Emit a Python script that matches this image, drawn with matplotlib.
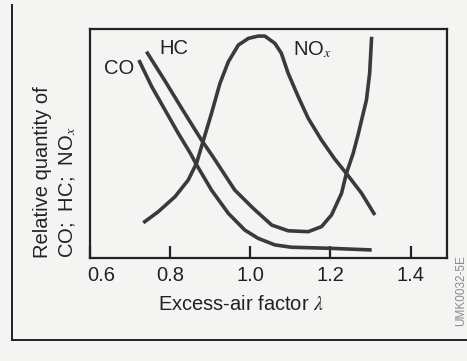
import numpy as np
import matplotlib
matplotlib.use("Agg")
import matplotlib.pyplot as plt
from matplotlib.transforms import ScaledTranslation

plt.rcParams['font.family'] = ['Liberation Sans', 'DejaVu Sans']
plt.rcParams['mathtext.fontset'] = 'stix'

# values (relative quantity, 0..1)
co_x = [0.723, 0.755, 0.788, 0.821, 0.851, 0.867, 0.904, 0.946, 0.987, 1.020, 1.062, 1.103, 1.203, 1.303]
co_y = [0.864, 0.748, 0.646, 0.544, 0.457, 0.405, 0.295, 0.193, 0.120, 0.084, 0.055, 0.045, 0.040, 0.033]

hc_x = [0.742, 0.788, 0.830, 0.879, 0.908, 0.962, 1.008, 1.054, 1.095, 1.145, 1.178, 1.203, 1.228,
        1.240, 1.257, 1.269, 1.290, 1.298, 1.303]
hc_y = [0.901, 0.773, 0.652, 0.514, 0.440, 0.295, 0.215, 0.142, 0.117, 0.113, 0.135, 0.186, 0.281,
        0.368, 0.456, 0.536, 0.689, 0.806, 0.966]

nox_x = [0.734, 0.771, 0.813, 0.846, 0.867, 0.879, 0.904, 0.925, 0.946, 0.971, 0.996, 1.020, 1.037,
         1.062, 1.078, 1.095, 1.120, 1.145, 1.178, 1.211, 1.240, 1.278, 1.311]
nox_y = [0.152, 0.200, 0.266, 0.339, 0.414, 0.485, 0.631, 0.762, 0.857, 0.930, 0.959, 0.969, 0.969,
         0.937, 0.894, 0.806, 0.704, 0.609, 0.514, 0.431, 0.368, 0.281, 0.186]

xticks = [0.6, 0.8, 1.0, 1.2, 1.4]
xtick_labels = ['0.6', '0.8', '1.0', '1.2', '1.4']

paper = '#f4f4f2'
ink = '#3a3a3a'
txt = '#222222'
fs = 14.5

fig = plt.figure(figsize=(4.67, 3.61), dpi=100, facecolor=paper)
ax = fig.add_axes([89.5 / 467, 1 - 257.5 / 361, (446.7 - 89.5) / 467, (257.5 - 29) / 361])
ax.set_facecolor(paper)

for xs, ys in [(co_x, co_y), (hc_x, hc_y), (nox_x, nox_y)]:
    ax.plot(xs, ys, color=ink, lw=2.6, solid_joinstyle='round', solid_capstyle='butt')

ax.set_xlim(0.6, 1.49)
ax.set_ylim(0, 1)
ax.set_yticks([])
ax.set_xticks(xticks)
ax.set_xticklabels(xtick_labels, fontsize=fs, color=txt)
ax.tick_params(axis='x', direction='in', length=9, width=1.6, pad=6, color=txt)
for s in ax.spines.values():
    s.set_linewidth(1.6)
    s.set_color(txt)

# 0.6 label sits a little right of the spine in the original
lab = ax.get_xticklabels()[0]
lab.set_transform(lab.get_transform() + ScaledTranslation(12 / 100, 0, fig.dpi_scale_trans))

# curve labels
ax.text(0.673, 0.827, 'CO', fontsize=fs, ha='center', va='center', color=txt)
ax.text(0.809, 0.915, 'HC', fontsize=fs, ha='center', va='center', color=txt)
ax.text(1.156, 0.91, r'NO$_{\mathit{x}}$', fontsize=fs, ha='center', va='center', color=txt)

# axis labels
fig.text(241 / 467, 1 - 305 / 361, r'Excess-air factor $\lambda$', fontsize=fs,
         ha='center', va='center', color=txt)
fig.text(43 / 467, 1 - 258 / 361, 'Relative quantity of', fontsize=fs, rotation=90,
         ha='center', va='bottom', color=txt)
fig.text(68 / 467, 1 - 258 / 361, r'CO;  HC;  NO$_{\mathit{x}}$', fontsize=fs, rotation=90,
         ha='center', va='bottom', color=txt)

# figure code on the right edge
fig.text(461 / 467, 1 - 291 / 361, 'UMK0032-5E', fontsize=8.5, rotation=90,
         ha='center', va='center', color='#8a8a8a')

# outer frame of the printed figure
fig.add_artist(plt.Line2D([12 / 467, 12 / 467], [1 - 5 / 361, 1 - 340 / 361],
                          transform=fig.transFigure, color=txt, lw=1.4))
fig.add_artist(plt.Line2D([12 / 467, 467 / 467], [1 - 340 / 361, 1 - 340 / 361],
                          transform=fig.transFigure, color=txt, lw=1.4))

fig.savefig('out.png', dpi=100, facecolor=paper)
